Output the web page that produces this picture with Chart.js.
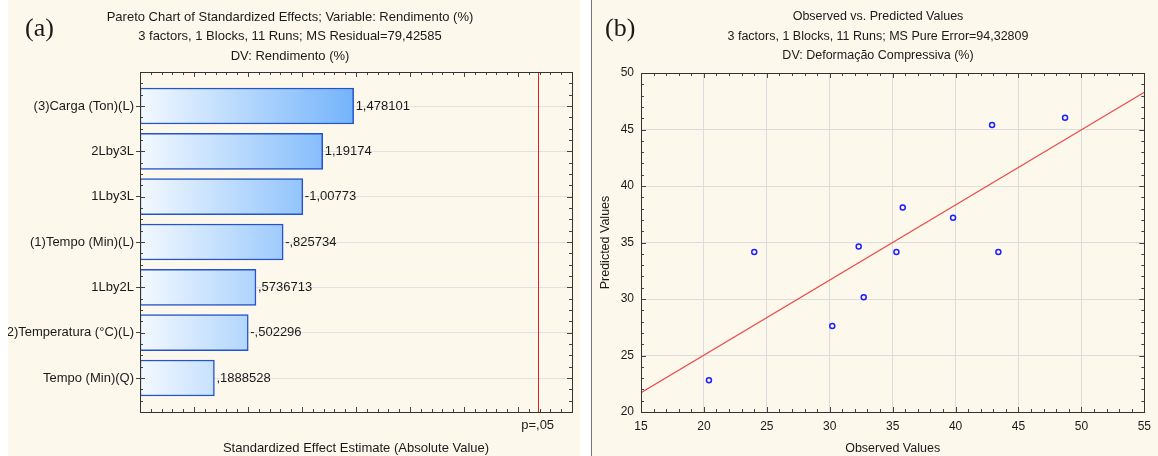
<!DOCTYPE html>
<html>
<head>
<meta charset="utf-8">
<script src="https://cdn.jsdelivr.net/npm/chart.js@4.4.1/dist/chart.umd.min.js"></script>
<style>
  html, body { margin: 0; padding: 0; background: #fff; }
  body { width: 1158px; height: 456px; position: relative; overflow: hidden; }
  .panel { position: absolute; top: 0; height: 456px; background: #fdf8ec; }
  #panelA { left: 8px; width: 572px; }
  #panelB { left: 592px; width: 566px; }
  #sep { position: absolute; left: 591px; top: 0; width: 1px; height: 456px; background: #777; }
  canvas { display: block; }
</style>
</head>
<body>
<div class="panel" id="panelA"><canvas id="pareto" width="572" height="456"></canvas></div>
<div id="sep"></div>
<div class="panel" id="panelB"><canvas id="obsPred" width="566" height="456"></canvas></div>

<script>
// (a) pareto chart data
const effectNames = ['(3)Carga (Ton)(L)', '2Lby3L', '1Lby3L', '(1)Tempo (Min)(L)', '1Lby2L', '(2)Temperatura (°C)(L)', 'Tempo (Min)(Q)'];
const effectValues = [1.478101, 1.19174, 1.00773, 0.825734, 0.5736713, 0.502296, 0.1888528];
const effectLabels = ['1,478101', '1,19174', '-1,00773', '-,825734', ',5736713', '-,502296', ',1888528'];
const pCritical = 3.182;

// (b) observed vs predicted data
const observed  = [20.4, 24.0, 30.2, 32.3, 32.7, 35.3, 35.8, 39.8, 42.9, 43.4, 48.7];
const predicted = [22.8, 34.15, 27.6, 34.65, 30.15, 34.15, 38.1, 37.2, 45.4, 34.15, 46.05];
const fitX = [15, 55];
const fitY = [21.7, 48.3];

Chart.defaults.font.family = '"Liberation Sans", Arial, sans-serif';
Chart.defaults.font.size = 12;
Chart.defaults.color = '#1a1a1a';

const FONT = '"Liberation Sans", Arial, sans-serif';

// inward minor/major ticks on all four sides + frame
const frameTicks = {
  id: 'frameTicks',
  afterDraw(chart, args, opts) {
    const {ctx, chartArea: a} = chart;
    ctx.save();
    ctx.strokeStyle = '#444';
    ctx.lineWidth = 1;
    for (const [id, step, major] of opts.axes) {
      const s = chart.scales[id];
      const n = Math.round((s.max - s.min) / step);
      for (let i = 0; i <= n; i++) {
        const v = s.min + i * step;
        const isMajor = Math.abs(v / major - Math.round(v / major)) < 1e-6;
        const len = isMajor ? 5 : 3;
        const p = Math.round(s.getPixelForValue(v)) + 0.5;
        ctx.beginPath();
        if (s.isHorizontal()) {
          ctx.moveTo(p, a.top); ctx.lineTo(p, a.top + len);
          ctx.moveTo(p, a.bottom); ctx.lineTo(p, a.bottom - len);
        } else {
          ctx.moveTo(a.left, p); ctx.lineTo(a.left + len, p);
          ctx.moveTo(a.right, p); ctx.lineTo(a.right - len, p);
        }
        ctx.stroke();
      }
    }
    ctx.strokeStyle = '#333';
    ctx.strokeRect(Math.round(a.left) + 0.5, Math.round(a.top) + 0.5,
                   Math.round(a.right - a.left), Math.round(a.bottom - a.top));
    ctx.restore();
  }
};

// three centred title lines and the panel tag
const headings = {
  id: 'headings',
  afterDraw(chart, args, opts) {
    const ctx = chart.ctx;
    ctx.save();
    ctx.fillStyle = '#1a1a1a';
    ctx.textAlign = 'center';
    ctx.textBaseline = 'middle';
    ctx.font = opts.size + 'px ' + FONT;
    opts.lines.forEach((t, i) => ctx.fillText(t, opts.x, 17 + i * 19.5));
    ctx.font = '26px "Liberation Serif", "Times New Roman", serif';
    ctx.textAlign = 'left';
    ctx.fillText(opts.tag, opts.tagX, 29);
    ctx.restore();
  }
};

// value text beside each bar, and the p=,05 line
const barNotes = {
  id: 'barNotes',
  afterDatasetsDraw(chart) {
    const ctx = chart.ctx;
    const a = chart.chartArea;
    ctx.save();
    ctx.font = '13px ' + FONT;
    ctx.fillStyle = '#1a1a1a';
    ctx.textAlign = 'left';
    ctx.textBaseline = 'middle';
    chart.getDatasetMeta(0).data.forEach((bar, i) => {
      ctx.fillText(effectLabels[i], bar.x + 2, bar.y);
    });
    const px = Math.round(chart.scales.x.getPixelForValue(pCritical)) + 0.5;
    ctx.strokeStyle = '#e02020';
    ctx.lineWidth = 1;
    ctx.beginPath();
    ctx.moveTo(px, a.top);
    ctx.lineTo(px, a.bottom);
    ctx.stroke();
    ctx.restore();
  }
};

new Chart(document.getElementById('pareto'), {
  type: 'bar',
  data: {
    datasets: [{
      data: effectValues.map((v, i) => ({x: v, y: i})),
      base: -0.5,
      barThickness: 36,
      borderColor: '#2452cc',
      borderWidth: 1.5,
      borderSkipped: false,
      backgroundColor(c) {
        const chart = c.chart;
        if (!chart.chartArea) return '#cfe6ff';
        const x0 = chart.scales.x.getPixelForValue(-0.5);
        const x1 = chart.scales.x.getPixelForValue(Math.max(...effectValues));
        const g = chart.ctx.createLinearGradient(x0, 0, x1, 0);
        g.addColorStop(0, '#f3f9ff');
        g.addColorStop(1, '#74b4fb');
        return g;
      }
    }]
  },
  options: {
    indexAxis: 'y',
    responsive: false,
    animation: false,
    layout: { padding: { left: 0, right: 8, top: 72, bottom: 0 } },
    plugins: {
      legend: { display: false },
      tooltip: { enabled: false },
      frameTicks: { axes: [['x', 0.1, 0.5], ['y', 0.25, 1]] },
      headings: {
        x: 282, tag: '(a)', tagX: 17, size: 13,
        lines: ['Pareto Chart of Standardized Effects; Variable: Rendimento (%)',
                '3 factors, 1 Blocks, 11 Runs; MS Residual=79,42585',
                'DV: Rendimento (%)']
      }
    },
    scales: {
      x: {
        type: 'linear', min: -0.5, max: 3.5,
        afterBuildTicks: s => { s.ticks = [{value: pCritical}]; },
        afterFit: s => { s.height = 44; },
        ticks: { callback: () => 'p=,05', padding: 6, maxRotation: 0, autoSkip: false, font: { size: 13 } },
        grid: { drawOnChartArea: false, drawTicks: false },
        border: { color: '#333' },
        title: { display: true, text: 'Standardized Effect Estimate (Absolute Value)', padding: 0, font: { size: 13 } }
      },
      y: {
        type: 'linear', reverse: true, min: -0.75, max: 6.75,
        offset: false,
        afterBuildTicks: s => { s.ticks = effectNames.map((_, i) => ({value: i})); },
        afterFit: s => { s.width = 132; },
        ticks: { callback: v => effectNames[v], padding: 2, autoSkip: false, font: { size: 13 } },
        grid: { color: '#e2e2e2', tickLength: 4, tickColor: '#444', offset: false },
        border: { color: '#333' }
      }
    }
  },
  plugins: [frameTicks, barNotes, headings]
});

new Chart(document.getElementById('obsPred'), {
  type: 'scatter',
  data: {
    datasets: [{
      data: observed.map((x, i) => ({x: x, y: predicted[i]})),
      pointRadius: 2.5,
      pointBorderWidth: 1.5,
      pointBorderColor: '#1f1fff',
      pointBackgroundColor: 'rgba(0,0,0,0)',
      order: 1
    }, {
      type: 'line',
      data: fitX.map((x, i) => ({x: x, y: fitY[i]})),
      borderColor: '#ee4848',
      borderWidth: 1.2,
      pointRadius: 0,
      order: 2
    }]
  },
  options: {
    responsive: false,
    animation: false,
    layout: { padding: { left: 0, right: 8, top: 73, bottom: 0 } },
    plugins: {
      legend: { display: false },
      tooltip: { enabled: false },
      frameTicks: { axes: [['x', 1, 5], ['y', 1, 5]] },
      headings: {
        x: 286, tag: '(b)', tagX: 13, size: 12.5,
        lines: ['Observed vs. Predicted Values',
                '3 factors, 1 Blocks, 11 Runs; MS Pure Error=94,32809',
                'DV: Deformação Compressiva (%)']
      }
    },
    scales: {
      x: {
        type: 'linear', min: 15, max: 55,
        afterFit: s => { s.height = 44; },
        ticks: { stepSize: 5, padding: 7, maxRotation: 0 },
        grid: { color: '#dcdcdc', drawTicks: false },
        border: { color: '#333' },
        title: { display: true, text: 'Observed Values', padding: 0, font: { size: 12.5 } }
      },
      y: {
        type: 'linear', min: 20, max: 50,
        afterFit: s => { s.width = 49; },
        ticks: { stepSize: 5, padding: 7 },
        grid: { color: '#dcdcdc', drawTicks: false },
        border: { color: '#333' },
        title: { display: true, text: 'Predicted Values', padding: { top: 6, bottom: 0 }, font: { size: 12.5 } }
      }
    }
  },
  plugins: [frameTicks, headings]
});
</script>
</body>
</html>
